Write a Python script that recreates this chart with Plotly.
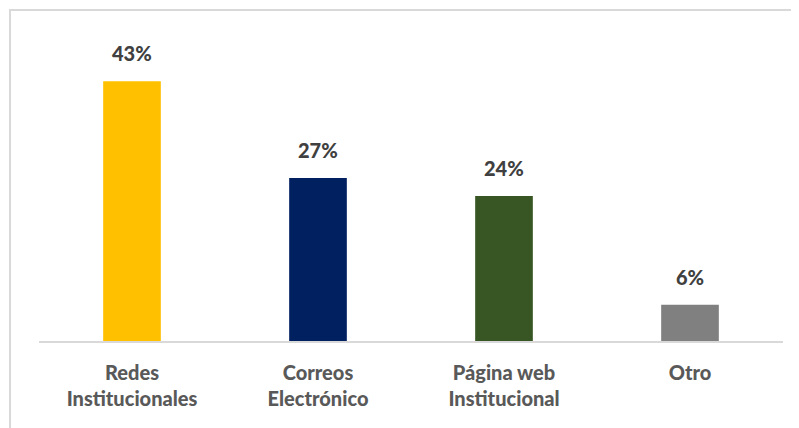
import plotly.graph_objects as go

categories = ["Redes<br>Institucionales", "Correos<br>Electrónico", "Página web<br>Institucional", "Otro"]
values = [43, 27, 24, 6]
labels = ["43%", "27%", "24%", "6%"]
colors = ["#FFC000", "#002060", "#375623", "#808080"]

OFF = 8  # page body margin
W, H = 799 - OFF, 428 - OFF
ml, mt = 39 - OFF, 39 - OFF
pw = 744
ph = 341 - 39
mr = W - ml - pw
mb = H - mt - ph

FONT = "Lato, Open Sans, sans-serif"

fig = go.Figure(go.Bar(x=categories, y=values, marker_color=colors, marker_line_width=0,
                       hoverinfo="skip"))

for c, v, t in zip(categories, values, labels):
    fig.add_annotation(x=c, y=v, text=t, showarrow=False,
                       yanchor="bottom", yshift=14,
                       font=dict(family=FONT, size=20, color="#404040", weight=900))

fx0 = (10 - OFF - ml) / pw
fy1 = (mt + ph - (10 - OFF)) / ph
fig.add_shape(type="rect", xref="paper", yref="paper", x0=fx0, x1=1.2, y0=-0.6, y1=fy1,
              line=dict(color="#d9d9d9", width=2), layer="below")

fig.update_layout(
    width=W, height=H,
    margin=dict(l=ml, r=mr, t=mt, b=mb),
    plot_bgcolor="white", paper_bgcolor="white",
    bargap=0.69, showlegend=False,
    xaxis=dict(showline=True, linecolor="#d9d9d9", linewidth=2, ticks="",
               ticklabelstandoff=13,
               tickfont=dict(family=FONT, size=20, color="#595959", weight=900),
               fixedrange=True),
    yaxis=dict(range=[0, 50], visible=False, fixedrange=True),
)
fig.write_html("out.html", config={"displayModeBar": False})
